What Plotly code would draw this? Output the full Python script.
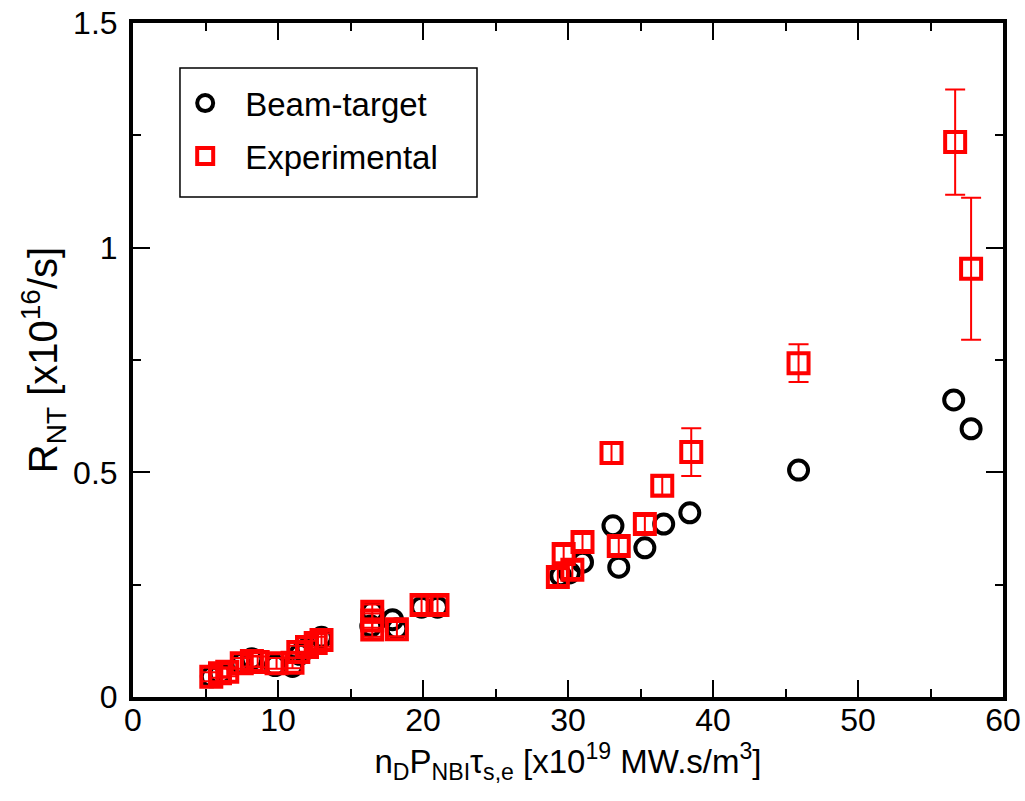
import plotly.graph_objects as go

# Beam-target neutron rate (simulated)
bt_x = [5.4, 6.0, 7.5, 8.2, 9.8, 11.0, 11.5, 12.0, 13.0, 16.5, 16.4, 17.9, 18.2,
        19.9, 21.0, 29.5, 30.1, 31.0, 33.1, 33.5, 35.3, 36.6, 38.4, 45.9, 56.6, 57.8]
bt_y = [0.045, 0.052, 0.075, 0.085, 0.070, 0.068, 0.095, 0.108, 0.133, 0.190, 0.158,
        0.172, 0.152, 0.200, 0.200, 0.270, 0.276, 0.300, 0.381, 0.289, 0.332, 0.385,
        0.410, 0.505, 0.661, 0.597]

# Measured neutron rate with uncertainties
exp_x = [5.4, 6.0, 6.5, 7.5, 8.2, 8.6, 9.9, 11.0, 11.4, 12.0, 12.6, 13.0, 16.5, 16.5,
         16.5, 18.2, 19.9, 21.0, 29.3, 30.3, 29.7, 31.0, 33.0, 33.5, 35.3, 36.5, 38.5,
         45.9, 56.7, 57.8]
exp_y = [0.045, 0.053, 0.056, 0.075, 0.080, 0.078, 0.075, 0.076, 0.100, 0.111, 0.120,
         0.127, 0.190, 0.170, 0.150, 0.151, 0.205, 0.205, 0.267, 0.283, 0.318, 0.345,
         0.543, 0.336, 0.385, 0.470, 0.545, 0.743, 1.235, 0.953]
exp_err = [0.010, 0.010, 0.010, 0.012, 0.012, 0.012, 0.012, 0.012, 0.014, 0.014, 0.014,
           0.015, 0.016, 0.016, 0.016, 0.016, 0.018, 0.018, 0.018, 0.018, 0.018, 0.018,
           0.022, 0.018, 0.018, 0.020, 0.053, 0.042, 0.117, 0.158]

FONT = "Liberation Sans, Arial, sans-serif"

fig = go.Figure()
fig.add_trace(go.Scatter(
    x=bt_x, y=bt_y, mode="markers", name="Beam-target", legendgroup="bt",
    marker=dict(symbol="circle-open", size=19, color="black",
                line=dict(color="black", width=4)),
))
fig.add_trace(go.Scatter(
    x=exp_x, y=exp_y, mode="markers", name="Experimental", legendgroup="exp",
    error_y=dict(type="data", array=exp_err, visible=True, color="red",
                 thickness=2, width=10),
    marker=dict(symbol="square-open", size=20, color="red",
                line=dict(color="red", width=4)),
))

axis_common = dict(
    showline=True, linecolor="black", linewidth=4, mirror="ticks",
    ticks="inside", ticklen=17, tickwidth=2, tickcolor="black",
    showgrid=False, zeroline=False, automargin=False,
    tickfont=dict(family=FONT, size=32, color="black"),
)

fig.update_xaxes(
    range=[0, 60], dtick=10, tick0=0,
    minor=dict(ticks="inside", ticklen=8, tickwidth=2, tickcolor="black", dtick=5),
    ticklabelstandoff=-8,
    title=dict(text="n<sub>D</sub>P<sub>NBI</sub>τ<sub>s,e</sub> [x10<sup>19</sup> MW.s/m<sup>3</sup>]",
               font=dict(family=FONT, size=33, color="black"), standoff=4),
    **axis_common,
)
fig.update_yaxes(
    range=[0, 1.5], dtick=0.5, tick0=0,
    minor=dict(ticks="inside", ticklen=8, tickwidth=2, tickcolor="black", dtick=0.25),
    ticklabelstandoff=5,
    title=dict(text="R<sub>NT</sub> [x10<sup>16</sup>/s]",
               font=dict(family=FONT, size=40, color="black"), standoff=4),
    **axis_common,
)

# legend frame
fig.add_shape(type="rect", xref="paper", yref="paper",
              x0=0.054, x1=0.3954, y0=0.7418, y1=0.9332,
              line=dict(color="black", width=1.5), fillcolor="white", layer="below")

fig.update_layout(
    width=1025, height=801,
    margin=dict(l=133, r=22, t=23, b=104),
    paper_bgcolor="white", plot_bgcolor="white",
    font=dict(family=FONT, color="black"),
    legend=dict(x=0.037, y=0.9226, xanchor="left", yanchor="top",
                bgcolor="rgba(0,0,0,0)", borderwidth=0,
                font=dict(family=FONT, size=33, color="black"),
                tracegroupgap=7, itemwidth=70),
)

fig.write_html("out.html")
